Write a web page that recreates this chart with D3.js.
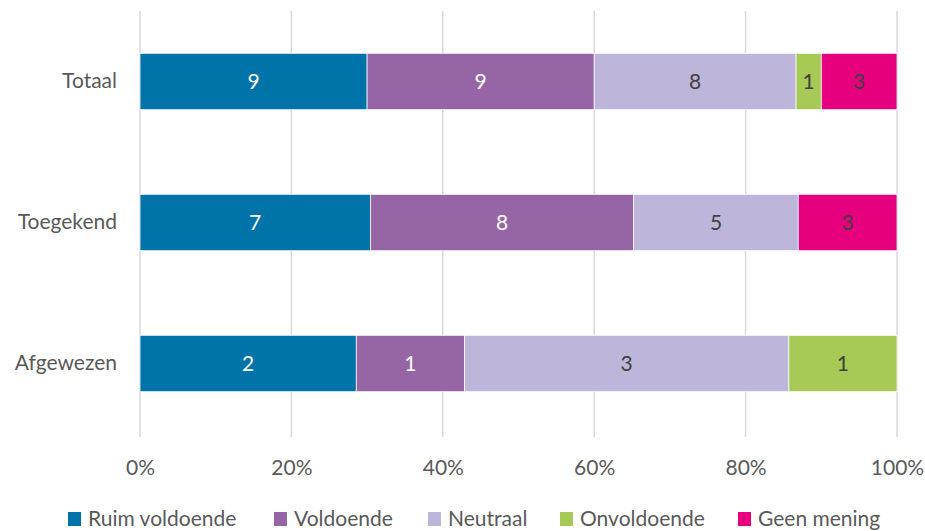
<!DOCTYPE html>
<html>
<head>
<meta charset="utf-8">
<script src="https://cdn.jsdelivr.net/npm/d3@7"></script>
<style>
  body { margin: 0; background: #fff; }
  text { font-family: Lato, "Open Sans", sans-serif; }
</style>
</head>
<body>
<script>
const categories = ["Totaal", "Toegekend", "Afgewezen"];
const seriesNames = ["Ruim voldoende", "Voldoende", "Neutraal", "Onvoldoende", "Geen mening"];
const ruimVoldoende = [9, 7, 2];
const voldoende = [9, 8, 1];
const neutraal = [8, 5, 3];
const onvoldoende = [1, 0, 1];
const geenMening = [3, 3, 0];
const tickValues = [0, 0.2, 0.4, 0.6, 0.8, 1];

const colors = ["#0073A9", "#9665A6", "#BEB6DA", "#A7C955", "#E6007E"];
const labelColors = ["#fff", "#fff", "#404040", "#404040", "#404040"];

const width = 925, height = 531;
const margin = {left: 140, right: 28, top: 11, bottom: 97};
const fontSize = "21px";

const svg = d3.select("body").append("svg")
  .attr("width", width)
  .attr("height", height);

const rows = categories.map((c, i) => {
  const vals = [ruimVoldoende[i], voldoende[i], neutraal[i], onvoldoende[i], geenMening[i]];
  const total = d3.sum(vals);
  const row = {category: c};
  seriesNames.forEach((s, j) => { row[s] = vals[j] / total; row[s + "_n"] = vals[j]; });
  return row;
});

const stacked = d3.stack().keys(seriesNames)(rows);

const x = d3.scaleLinear()
  .domain([0, 1])
  .range([margin.left, width - margin.right]);

const y = d3.scaleBand()
  .domain(categories)
  .range([margin.top, height - margin.bottom])
  .paddingInner(0.6)
  .paddingOuter(0.3);

// gridlines
svg.append("g")
  .selectAll("line")
  .data(tickValues)
  .join("line")
  .attr("x1", d => x(d))
  .attr("x2", d => x(d))
  .attr("y1", margin.top)
  .attr("y2", height - margin.bottom + 3)
  .attr("stroke", "#d9d9d9")
  .attr("stroke-width", 1.5);

// bars
const layers = svg.append("g")
  .selectAll("g")
  .data(stacked)
  .join("g")
  .attr("fill", (d, i) => colors[i]);

layers.selectAll("rect")
  .data(d => d.filter(p => p[1] - p[0] > 0))
  .join("rect")
  .attr("x", d => x(d[0]))
  .attr("y", d => y(d.data.category))
  .attr("width", d => x(d[1]) - x(d[0]))
  .attr("height", y.bandwidth())
  .attr("stroke", "#fff")
  .attr("stroke-width", 0.75);

// value labels
stacked.forEach((layer, i) => {
  svg.append("g")
    .selectAll("text")
    .data(layer.filter(p => p[1] - p[0] > 0))
    .join("text")
    .attr("x", d => (x(d[0]) + x(d[1])) / 2)
    .attr("y", d => y(d.data.category) + y.bandwidth() / 2)
    .attr("dy", "0.35em")
    .attr("text-anchor", "middle")
    .attr("fill", labelColors[i])
    .style("font-size", fontSize)
    .text(d => d.data[layer.key + "_n"]);
});

// category labels
const yAxis = svg.append("g")
  .attr("transform", `translate(${margin.left},0)`)
  .call(d3.axisLeft(y).tickSize(0).tickPadding(23));
yAxis.select(".domain").remove();
yAxis.selectAll("text")
  .attr("fill", "#595959")
  .style("font-size", fontSize)
  .style("font-family", "Lato, sans-serif");

// x axis
const xAxis = svg.append("g")
  .attr("transform", `translate(0,${height - margin.bottom})`)
  .call(d3.axisBottom(x).tickValues(tickValues).tickFormat(d3.format(".0%")).tickSize(0).tickPadding(26));
xAxis.select(".domain").remove();
xAxis.selectAll("text")
  .attr("fill", "#595959")
  .style("font-size", fontSize)
  .style("font-family", "Lato, sans-serif");

// legend
const legendX = [68, 274, 428, 560, 738];
const legend = svg.append("g")
  .selectAll("g")
  .data(seriesNames)
  .join("g")
  .attr("transform", (d, i) => `translate(${legendX[i]},512)`);
legend.append("rect")
  .attr("width", 13)
  .attr("height", 14)
  .attr("fill", (d, i) => colors[i]);
legend.append("text")
  .attr("x", 20)
  .attr("y", 7)
  .attr("dy", "0.35em")
  .attr("fill", "#595959")
  .style("font-size", fontSize)
  .text(d => d);
</script>
</body>
</html>
